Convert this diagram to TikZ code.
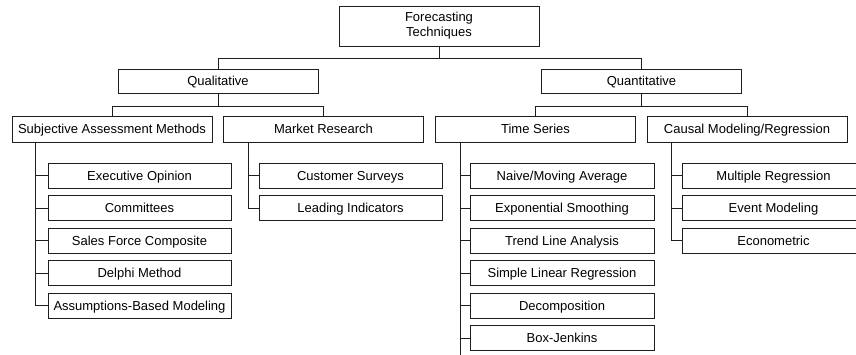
\documentclass[tikz,border=0pt]{standalone}
\usepackage{fontspec}
\setmainfont{Liberation Sans}
\usepackage{tikz}
\usetikzlibrary{positioning}
\definecolor{inkline}{RGB}{30, 30, 30}

\begin{document}
\begin{tikzpicture}[x=1pt, y=-1pt,
        font=\fontsize{13pt}{15pt}\selectfont,
        box/.style={draw=inkline, line width=0.9pt, fill=white, inner sep=0pt,
                    text height=9.3pt, text depth=0pt},
        headbox/.style={box, minimum width=200pt, minimum height=24pt},
        groupbox/.style={box, minimum width=200pt, minimum height=26pt},
        leafbox/.style={box, minimum width=183pt, minimum height=25pt},
        link/.style={draw=inkline, line width=0.8pt}]
            \clip (0,0) rectangle (856,354);
            % root and the two main families
            \node[box, minimum width=200pt, minimum height=40pt, align=center, text height=, text depth=]
                                  (root)    at (439.0,  26.0) {Forecasting\\Techniques};
            \node[headbox]        (qual)    at (218.0,  81.0) {Qualitative};
            \node[headbox]        (quant)   at (641.5,  81.0) {Quantitative};
            % groups
            \node[groupbox]       (subj)    at (112.0, 129.0) {Subjective Assessment Methods};
            \node[groupbox]       (market)  at (323.5, 129.0) {Market Research};
            \node[groupbox]       (tseries) at (535.5, 129.0) {Time Series};
            \node[groupbox]       (causal)  at (747.0, 129.0) {Causal Modeling/Regression};
            % subjective assessment methods
            \node[leafbox]        (execop)  at (139.5, 175.5) {Executive Opinion};
            \node[leafbox]        (commit)  at (139.5, 208.0) {Committees};
            \node[leafbox]        (sales)   at (139.5, 240.5) {Sales Force Composite};
            \node[leafbox]        (delphi)  at (139.5, 273.0) {Delphi Method};
            \node[leafbox]        (assume)  at (139.5, 305.5) {Assumptions-Based Modeling};
            % market research
            \node[leafbox]        (survey)  at (350.5, 175.5) {Customer Surveys};
            \node[leafbox]        (leading) at (350.5, 208.0) {Leading Indicators};
            % time series
            \node[leafbox, minimum width=184pt] (naive)   at (562.0, 175.5) {Naive/Moving Average};
            \node[leafbox, minimum width=184pt] (expo)    at (562.0, 208.0) {Exponential Smoothing};
            \node[leafbox, minimum width=184pt] (trend)   at (562.0, 240.5) {Trend Line Analysis};
            \node[leafbox, minimum width=184pt] (linreg)  at (562.0, 273.0) {Simple Linear Regression};
            \node[leafbox, minimum width=184pt] (decomp)  at (562.0, 305.5) {Decomposition};
            \node[leafbox, minimum width=184pt] (boxjen)  at (562.0, 338.0) {Box-Jenkins};
            % causal modeling
            \node[leafbox]        (multreg) at (773.5, 175.5) {Multiple Regression};
            \node[leafbox]        (event)   at (773.5, 208.0) {Event Modeling};
            \node[leafbox]        (econo)   at (773.5, 240.5) {Econometric};

            % tree links
            \draw[link] (root.south)  -- ++(0,12) -| (qual.north);
            \draw[link] (root.south)  -- ++(0,12) -| (quant.north);
            \draw[link] (qual.south)  -- ++(0,13) -| (subj.north);
            \draw[link] (qual.south)  -- ++(0,13) -| (market.north);
            \draw[link] (quant.south) -- ++(0,13) -| (tseries.north);
            \draw[link] (quant.south) -- ++(0,13) -| (causal.north);
            % list links
            \draw[link] ([xshift=24pt]subj.south west)    |- (execop.west);
            \draw[link] ([xshift=24pt]subj.south west)    |- (commit.west);
            \draw[link] ([xshift=24pt]subj.south west)    |- (sales.west);
            \draw[link] ([xshift=24pt]subj.south west)    |- (delphi.west);
            \draw[link] ([xshift=24pt]subj.south west)    |- (assume.west);
            \draw[link] ([xshift=25pt]market.south west)  |- (survey.west);
            \draw[link] ([xshift=25pt]market.south west)  |- (leading.west);
            \draw[link] ([xshift=25pt]tseries.south west) |- (naive.west);
            \draw[link] ([xshift=25pt]tseries.south west) |- (expo.west);
            \draw[link] ([xshift=25pt]tseries.south west) |- (trend.west);
            \draw[link] ([xshift=25pt]tseries.south west) |- (linreg.west);
            \draw[link] ([xshift=25pt]tseries.south west) |- (decomp.west);
            \draw[link] ([xshift=25pt]tseries.south west) |- (boxjen.west);
            \draw[link] ([xshift=25pt]tseries.south west) -- ++(0,216);
            \draw[link] ([xshift=25pt]causal.south west)  |- (multreg.west);
            \draw[link] ([xshift=25pt]causal.south west)  |- (event.west);
            \draw[link] ([xshift=25pt]causal.south west)  |- (econo.west);
\end{tikzpicture}
\end{document}
